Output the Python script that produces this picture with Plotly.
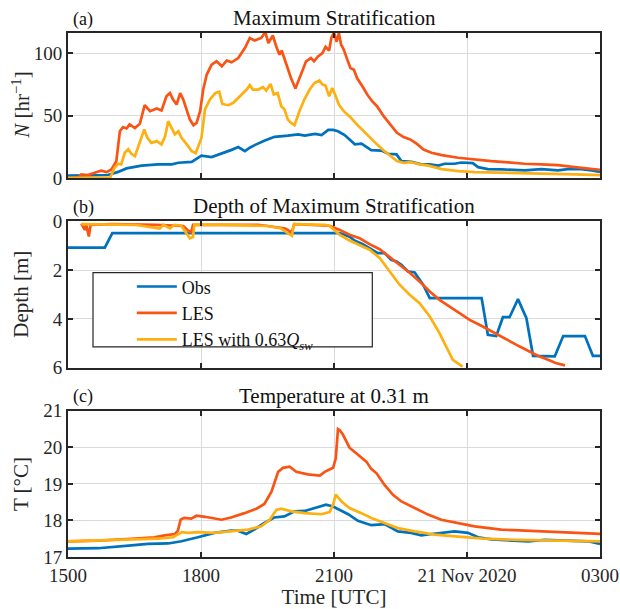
import plotly.graph_objects as go
from plotly.subplots import make_subplots

# ---------------- data (hours since 2020-11-20 00:00 UTC) ----------------
# Panel (a): maximum stratification N [hr^-1]
n_obs_t = [15.0, 15.9, 16.13, 16.32, 16.66, 17.03, 17.34, 17.49, 17.79, 17.9, 18.01, 18.24, 18.47,
           18.69, 18.84, 18.99, 19.1, 19.21, 19.44, 19.66, 19.96, 20.19, 20.34, 20.57, 20.72, 20.87,
           20.98, 21.09, 21.24, 21.47, 21.62, 21.69, 21.84, 22.07, 22.22, 22.41, 22.52, 22.75, 22.97,
           23.16, 23.35, 23.5, 23.72, 23.87, 24.13, 24.25, 24.47, 24.78, 25.08, 25.3, 25.68, 26.05,
           26.28, 26.58, 26.81, 27.0]
n_obs_v = [2.0, 2.5, 5.0, 7.8, 10.0, 11.0, 11.0, 12.3, 13.0, 15.5, 18.0, 16.8, 19.5,
           22.6, 24.8, 21.6, 24.3, 26.4, 30.0, 33.0, 34.0, 35.0, 34.0, 35.4, 34.4, 38.6,
           38.6, 37.5, 34.4, 27.0, 27.5, 26.0, 22.4, 22.0, 19.5, 19.0, 13.6, 13.0, 11.0,
           11.0, 10.0, 11.5, 11.5, 12.5, 12.0, 8.8, 7.2, 7.0, 6.7, 6.2, 7.2, 6.2,
           7.2, 7.2, 6.2, 5.0]

n_les_t = [15.0, 15.23, 15.3, 15.45, 15.6, 15.75, 15.87, 15.98, 16.09, 16.17, 16.24, 16.32, 16.39,
           16.51, 16.62, 16.73, 16.85, 17.0, 17.11, 17.22, 17.3, 17.37, 17.45, 17.53, 17.6, 17.68,
           17.75, 17.83, 17.9, 17.98, 18.05, 18.13, 18.24, 18.35, 18.47, 18.58, 18.69, 18.84, 18.99,
           19.1, 19.21, 19.36, 19.45, 19.52, 19.62, 19.7, 19.77, 19.82, 19.92, 20.03, 20.13, 20.26,
           20.37, 20.48, 20.55, 20.64, 20.74, 20.81, 20.89, 20.94, 21.0, 21.06, 21.11, 21.16, 21.22,
           21.3, 21.37, 21.45, 21.52, 21.64, 21.75, 21.86, 21.97, 22.12, 22.27, 22.42, 22.57, 22.72,
           22.87, 23.02, 23.2, 23.43, 23.8, 24.18, 24.55, 24.93, 25.3, 25.68, 26.05, 26.43, 26.81, 27.0]
n_les_v = [0.3, 0.3, 3.0, 2.4, 4.3, 6.0, 4.8, 7.0, 13.6, 37.5, 40.8, 39.7, 43.0,
           40.0, 43.4, 58.3, 53.5, 55.6, 54.0, 65.4, 68.0, 62.8, 58.8, 68.0, 62.8, 54.8,
           46.8, 42.3, 44.2, 53.5, 70.8, 82.8, 90.7, 93.4, 89.4, 94.0, 92.6, 96.0, 104.0,
           112.0, 110.0, 112.0, 116.8, 108.0, 114.0, 105.0, 98.7, 102.0, 90.7, 80.0, 71.6, 82.8,
           93.4, 96.0, 93.4, 97.3, 100.0, 105.0, 102.0, 112.0, 116.3, 109.0, 116.0, 106.7, 102.7,
           94.7, 88.0, 86.7, 80.0, 73.4, 66.8, 61.5, 57.5, 49.5, 42.8, 36.2, 32.8, 31.0,
           27.4, 22.9, 20.3, 18.4, 16.3, 14.7, 13.6, 12.6, 11.5, 11.0, 10.4, 8.8, 7.2, 6.7]

n_les63_t = [15.0, 15.95, 16.05, 16.13, 16.2, 16.28, 16.36, 16.43, 16.51, 16.62, 16.72, 16.79, 16.88,
             17.0, 17.11, 17.19, 17.26, 17.34, 17.41, 17.49, 17.56, 17.68, 17.79, 17.88, 17.94, 18.01,
             18.09, 18.2, 18.32, 18.41, 18.48, 18.62, 18.73, 18.88, 19.03, 19.1, 19.17, 19.29, 19.4,
             19.47, 19.57, 19.64, 19.73, 19.81, 19.88, 19.96, 20.03, 20.11, 20.22, 20.33, 20.45, 20.56,
             20.67, 20.74, 20.81, 20.89, 20.96, 21.04, 21.11, 21.22, 21.37, 21.52, 21.67, 21.82, 21.97,
             22.12, 22.27, 22.42, 22.57, 22.72, 22.94, 23.13, 23.43, 23.8, 24.18, 24.93, 25.68, 26.43, 27.0]
n_les63_v = [0.3, 0.3, 8.3, 11.5, 11.0, 20.3, 23.0, 19.5, 17.6, 28.2, 38.9, 32.2, 28.2,
             29.6, 27.0, 33.5, 45.5, 40.0, 35.0, 37.5, 32.2, 27.0, 21.6, 20.0, 25.6, 32.2,
             55.0, 62.8, 68.0, 69.0, 59.3, 58.3, 60.2, 65.4, 70.8, 74.3, 70.8, 70.8, 72.7,
             70.0, 75.3, 66.8, 68.0, 57.5, 55.0, 46.8, 44.2, 42.3, 53.5, 62.8, 70.8, 76.0,
             78.0, 74.8, 74.0, 65.4, 72.0, 65.4, 58.8, 53.5, 48.7, 42.8, 37.5, 31.7, 27.0,
             22.1, 17.6, 13.6, 12.3, 12.8, 11.0, 10.0, 7.2, 5.6, 4.8, 4.0, 3.5, 3.0, 2.4]

# Panel (b): depth of maximum stratification [m]
d_obs_t = [15.0, 15.83, 16.0, 21.13, 21.35, 21.46, 21.65, 21.8, 21.99, 22.14, 22.29, 22.41, 22.52,
           22.67, 22.82, 23.01, 23.16, 23.38, 24.33, 24.47, 24.66, 24.81, 24.96, 25.15, 25.34, 25.49,
           25.71, 25.98, 26.17, 26.66, 26.84, 27.0]
d_obs_v = [1.08, 1.08, 0.49, 0.49, 0.64, 0.79, 0.94, 1.1, 1.31, 1.31, 1.58, 1.65, 1.79,
           2.06, 2.1, 2.6, 3.15, 3.15, 3.15, 4.65, 4.7, 3.93, 3.93, 3.19, 3.97, 5.51,
           5.53, 5.53, 4.7, 4.7, 5.51, 5.51]

d_les_t = [15.3, 15.38, 15.41, 15.47, 15.51, 16.0, 17.0, 17.6, 17.72, 17.78, 17.82, 18.5, 19.3,
           19.9, 20.05, 20.1, 20.5, 20.9, 21.13, 21.35, 21.58, 21.8, 22.03, 22.25, 22.48, 22.7,
           22.93, 23.16, 23.38, 23.61, 23.83, 24.06, 24.28, 24.51, 24.74, 24.96, 25.19, 25.41, 25.64,
           25.87, 26.0, 26.21]
d_les_v = [0.1, 0.36, 0.12, 0.63, 0.15, 0.12, 0.15, 0.2, 0.4, 0.46, 0.15, 0.15, 0.15,
           0.3, 0.46, 0.12, 0.15, 0.19, 0.36, 0.56, 0.7, 0.94, 1.15, 1.45, 1.79, 2.1,
           2.47, 2.88, 3.22, 3.49, 3.76, 4.04, 4.24, 4.47, 4.69, 4.92, 5.13, 5.33, 5.54,
           5.7, 5.8, 5.9]

d_les63_t = [15.3, 16.0, 16.5, 17.07, 17.15, 17.3, 17.4, 17.55, 17.65, 17.75, 17.82, 17.85, 18.5,
             19.0, 19.5, 19.8, 20.0, 20.05, 20.1, 20.5, 20.8, 20.9, 21.13, 21.35, 21.58, 21.8,
             22.03, 22.25, 22.48, 22.7, 22.93, 23.16, 23.38, 23.53, 23.68, 23.9]
d_les63_v = [0.12, 0.12, 0.15, 0.3, 0.15, 0.3, 0.15, 0.18, 0.45, 0.7, 0.65, 0.15, 0.15,
             0.18, 0.2, 0.3, 0.55, 0.6, 0.12, 0.12, 0.15, 0.2, 0.56, 0.79, 0.97, 1.17,
             1.51, 2.06, 2.6, 3.0, 3.36, 3.9, 4.58, 5.13, 5.67, 5.95]

# Panel (c): temperature at 0.31 m [deg C]
t_obs_t = [15.0, 15.68, 16.43, 16.8, 17.26, 17.56, 17.93, 18.3, 18.68, 18.83, 19.02, 19.2, 19.43,
           19.65, 19.88, 20.11, 20.34, 20.56, 20.82, 20.98, 21.13, 21.32, 21.54, 21.84, 22.14, 22.44,
           22.74, 22.97, 23.2, 23.5, 23.72, 24.02, 24.25, 24.55, 24.93, 25.38, 25.75, 26.28, 26.73, 27.0]
t_obs_v = [17.23, 17.24, 17.32, 17.36, 17.37, 17.43, 17.54, 17.66, 17.72, 17.72, 17.63, 17.75, 17.93,
           18.08, 18.11, 18.25, 18.26, 18.34, 18.43, 18.38, 18.29, 18.17, 17.99, 17.87, 17.9, 17.7,
           17.66, 17.59, 17.63, 17.68, 17.7, 17.66, 17.54, 17.48, 17.45, 17.43, 17.47, 17.45, 17.43, 17.36]

t_les_t = [15.0, 15.68, 16.43, 16.95, 17.18, 17.41, 17.48, 17.54, 17.62, 17.78, 17.9, 18.09, 18.46,
           18.68, 18.98, 19.25, 19.43, 19.59, 19.74, 19.85, 20.0, 20.15, 20.41, 20.68, 20.79, 20.98,
           21.04, 21.09, 21.13, 21.2, 21.35, 21.54, 21.73, 21.84, 21.96, 22.14, 22.33, 22.52, 22.82,
           23.12, 23.42, 23.8, 24.17, 24.77, 25.38, 25.98, 26.58, 27.0]
t_les_v = [17.43, 17.45, 17.5, 17.54, 17.59, 17.63, 17.72, 18.02, 18.07, 18.05, 18.13, 18.1, 18.02,
           18.08, 18.2, 18.32, 18.45, 18.79, 19.33, 19.44, 19.47, 19.33, 19.26, 19.23, 19.33, 19.44,
           19.7, 20.5, 20.47, 20.35, 19.99, 19.81, 19.61, 19.41, 19.29, 18.97, 18.7, 18.52, 18.35,
           18.16, 18.02, 17.93, 17.84, 17.75, 17.72, 17.68, 17.66, 17.63]

t_les63_t = [15.0, 15.68, 16.43, 17.03, 17.37, 17.48, 17.57, 17.71, 17.93, 18.3, 18.68, 19.06, 19.36,
             19.55, 19.7, 19.81, 20.04, 20.34, 20.71, 20.9, 20.98, 21.04, 21.17, 21.35, 21.62, 21.84,
             22.14, 22.44, 22.82, 23.27, 23.8, 24.4, 25.15, 25.9, 27.0]
t_les63_v = [17.43, 17.45, 17.47, 17.5, 17.54, 17.63, 17.68, 17.66, 17.68, 17.66, 17.7, 17.75, 17.84,
             18.02, 18.29, 18.32, 18.25, 18.2, 18.17, 18.23, 18.43, 18.71, 18.52, 18.34, 18.2, 18.07,
             17.93, 17.79, 17.7, 17.61, 17.56, 17.5, 17.47, 17.45, 17.43]

tick_vals = [15, 18, 21, 24, 27]
tick_text = ["1500", "1800", "2100", "21 Nov 2020", "0300"]
series_names = ["Obs", "LES", "LES with 0.63<i>Q</i><sub><i>sw</i></sub>"]
colors = ["#0072BD", "#FA5414", "#FDB010"]

# ---------------- figure ----------------
FONT = "Liberation Serif"
fig = make_subplots(rows=3, cols=1, shared_xaxes=False)

panels = [
    (1, [(n_obs_t, n_obs_v), (n_les_t, n_les_v), (n_les63_t, n_les63_v)]),
    (2, [(d_obs_t, d_obs_v), (d_les_t, d_les_v), (d_les63_t, d_les63_v)]),
    (3, [(t_obs_t, t_obs_v), (t_les_t, t_les_v), (t_les63_t, t_les63_v)]),
]
for row, series in panels:
    for i, (tx, vy) in enumerate(series):
        fig.add_trace(go.Scatter(x=tx, y=vy, mode="lines", name=series_names[i],
                                 line=dict(color=colors[i], width=2.7),
                                 showlegend=(row == 2)), row=row, col=1)

domains = [[0.723, 1.0], [0.361, 0.641], [0.0, 0.279]]
axis_common = dict(showline=True, linecolor="#262626", linewidth=1.8, mirror="ticks",
                   ticks="inside", ticklen=5, tickwidth=1.6, tickcolor="#262626",
                   showgrid=True, gridcolor="#dadada", gridwidth=1, zeroline=False,
                   automargin=False,
                   tickfont=dict(family=FONT, size=19, color="#262626"))
for r in range(1, 4):
    xa = dict(axis_common)
    xa.update(range=[15, 27], tickvals=tick_vals, ticktext=tick_text,
              showticklabels=(r == 3))
    fig.update_xaxes(row=r, col=1, **xa)
    fig.update_yaxes(row=r, col=1, domain=domains[r - 1], **axis_common)

fig.update_yaxes(row=1, col=1, range=[0, 116], tickvals=[0, 50, 100])
fig.update_yaxes(row=2, col=1, range=[6, 0], tickvals=[0, 2, 4, 6])
fig.update_yaxes(row=3, col=1, range=[17, 21], tickvals=[17, 18, 19, 20, 21])
fig.update_xaxes(row=3, col=1, title=dict(text="Time [UTC]", standoff=6,
                                          font=dict(family=FONT, size=21, color="#262626")))

titles = ["Maximum Stratification", "Depth of Maximum Stratification", "Temperature at 0.31 m"]
labels = ["(a)", "(b)", "(c)"]
ytitles = ["<i>N</i> [hr<sup>−1</sup>]", "Depth [m]", "T [°C]"]
yrefs = ["y domain", "y2 domain", "y3 domain"]
for i in range(3):
    fig.add_annotation(text=titles[i], xref="paper", yref=yrefs[i], x=0.5, y=1,
                       yanchor="middle", yshift=15, showarrow=False,
                       font=dict(family=FONT, size=21, color="#111111"))
    fig.add_annotation(text=labels[i], xref="paper", yref=yrefs[i], x=0, y=1,
                       xanchor="left", yanchor="middle", xshift=3, yshift=14, showarrow=False,
                       font=dict(family=FONT, size=18, color="#111111"))
    fig.add_annotation(text=ytitles[i], xref="paper", yref=yrefs[i], x=-0.088, y=0.5,
                       xanchor="center", yanchor="middle", textangle=-90, showarrow=False,
                       font=dict(family=FONT, size=21, color="#262626"))

# legend box frame
fig.add_shape(type="rect", xref="paper", yref="paper", x0=0.047, x1=0.572, y0=0.401, y1=0.5426,
              line=dict(color="#262626", width=1.2), fillcolor="white", layer="above")

fig.update_layout(
    width=620, height=609,
    margin=dict(l=68, r=20, t=33, b=52),
    paper_bgcolor="white", plot_bgcolor="white",
    font=dict(family=FONT, size=18, color="#262626"),
    legend=dict(x=0.12, y=0.551, xanchor="left", yanchor="top",
                bgcolor="rgba(0,0,0,0)", borderwidth=0,
                font=dict(family=FONT, size=18, color="#111111"),
                itemwidth=40, tracegroupgap=0),
    showlegend=True,
)

fig.write_html("out.html")
